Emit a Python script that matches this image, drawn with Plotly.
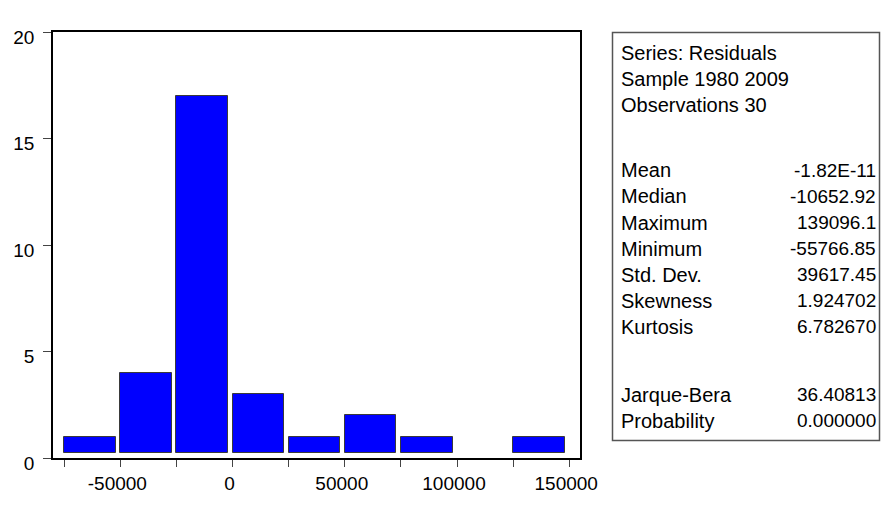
import plotly.graph_objects as go

# ---------------- data ----------------
bin_starts = [-75000, -50000, -25000, 0, 25000, 50000, 75000, 100000, 125000]
counts = [1, 4, 17, 3, 1, 2, 1, 0, 1]

y_tick_vals = [0, 5, 10, 15, 20]
x_tick_vals = [-75000, -50000, -25000, 0, 25000, 50000, 75000, 100000, 125000, 150000]
x_tick_text = ["", "-50000", "", "0", "", "50000", "", "100000", "", "150000"]

header_lines = ["Series: Residuals", "Sample 1980 2009", "Observations 30"]
stat_labels = ["Mean", "Median", "Maximum", "Minimum", "Std. Dev.", "Skewness", "Kurtosis"]
stat_values = ["-1.82E-11", "-10652.92", "139096.1", "-55766.85", "39617.45", "1.924702", "6.782670"]
test_labels = ["Jarque-Bera", "Probability"]
test_values = ["36.40813", "0.000000"]

# ---------------- style ----------------
FONT = "Liberation Sans, Arial, sans-serif"
W, H = 882, 506
# plot area in window pixels
PL, PR, PT, PB = 53, 580, 32, 471
ML, MT, MR, MB = PL, PT, W - PR, H - PB
PW, PH = PR - PL, PB - PT
BAR_BASE = 0.22
BAR_WIDTH = 23000

def px_to_paper_x(px):
    return (px - PL) / PW

def px_to_paper_y(py):
    return (PB - py) / PH

bar_len = [c - BAR_BASE if c > 0 else None for c in counts]

fig = go.Figure()
fig.add_trace(go.Bar(
    x=bin_starts,
    y=bar_len,
    base=BAR_BASE,
    width=BAR_WIDTH,
    offset=0,
    marker=dict(color="#0000FF", line=dict(color="#3a3a3a", width=1)),
    hoverinfo="skip",
))

fig.update_layout(
    width=W, height=H,
    margin=dict(l=ML, r=MR, t=MT, b=MB, pad=0),
    plot_bgcolor="white", paper_bgcolor="white",
    showlegend=False,
    font=dict(family=FONT, size=19, color="black"),
    bargap=0,
)

fig.update_xaxes(
    range=[-80000, 154800],
    tickmode="array", tickvals=x_tick_vals, ticktext=x_tick_text,
    ticks="outside", ticklen=7, tickwidth=1, tickcolor="#444",
    showgrid=False, zeroline=False,
    showline=True, linecolor="black", linewidth=1.6, mirror=True,
    tickfont=dict(family=FONT, size=19, color="black"),
    ticklabelshift=-3,
)
fig.update_yaxes(
    range=[0, 20],
    tickmode="array", tickvals=y_tick_vals,
    ticks="outside", ticklen=8, tickwidth=1, tickcolor="#444",
    showgrid=False, zeroline=False,
    showline=True, linecolor="black", linewidth=1.6, mirror=True,
    tickfont=dict(family=FONT, size=19, color="black"),
    ticklabelshift=5, ticklabelstandoff=5,
)

# statistics box
box_left, box_right, box_top, box_bottom = 612.5, 879.5, 32.5, 453
fig.add_shape(
    type="rect", xref="paper", yref="paper",
    x0=px_to_paper_x(box_left), x1=px_to_paper_x(box_right),
    y0=px_to_paper_y(box_bottom), y1=px_to_paper_y(box_top),
    line=dict(color="#555", width=1.5), fillcolor="white", layer="below",
)

row0, row_step = 53.5, 26.9
text_left, text_right = 619, 878

rows = []  # (row position, left text, right text)
for i, t in enumerate(header_lines):
    rows.append((i, t, ""))
for i, (lab, val) in enumerate(zip(stat_labels, stat_values)):
    rows.append((4.5 + i, lab, val))
for i, (lab, val) in enumerate(zip(test_labels, test_values)):
    rows.append((13.1 + i, lab, val))

for r, lab, val in rows:
    yp = px_to_paper_y(row0 + r * row_step)
    fig.add_annotation(
        x=px_to_paper_x(text_left), y=yp, xref="paper", yref="paper",
        text=lab, showarrow=False, xanchor="left", yanchor="middle",
        font=dict(family=FONT, size=20, color="black"),
    )
    if val:
        fig.add_annotation(
            x=px_to_paper_x(text_right), y=yp, xref="paper", yref="paper",
            text=val, showarrow=False, xanchor="right", yanchor="middle",
            font=dict(family=FONT, size=19, color="black"),
        )

fig.write_html(
    "out.html",
    config={"displayModeBar": False},
    post_script="document.body.style.margin='0';document.body.style.overflow='hidden';",
)
